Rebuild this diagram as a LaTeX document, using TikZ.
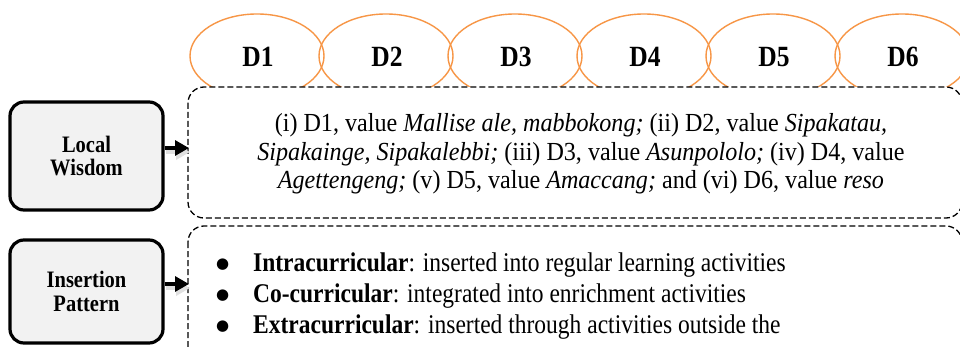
\documentclass[tikz,border=0pt]{standalone}
\usepackage{fontspec}
\usepackage{graphicx}
\setmainfont{Liberation Serif}
\newfontfamily\dejavu{DejaVu Sans}
\usetikzlibrary{shapes.geometric,arrows.meta}
\definecolor{dorange}{HTML}{F79646}
\definecolor{boxgray}{HTML}{F2F2F2}
\newcommand{\vstr}[1]{\scalebox{1}[1.15]{#1}}
\newcommand{\vstrb}[1]{\scalebox{1}[1.08]{#1}}
\newcommand{\bul}{\hspace*{-6pt}\makebox[37pt][l]{\raisebox{3pt}{\scalebox{1}[0.87]{\dejavu\fontsize{15}{15}\selectfont ●}}}}
\tikzset{
  dim/.style={ellipse, draw=dorange, line width=1.4pt, minimum width=134pt, minimum height=84pt, inner sep=0pt},
  dlabel/.style={font=\fontsize{25.5}{30}\selectfont\bfseries},
  leftbox/.style={draw=black, line width=3.2pt, rounded corners=14pt, fill=boxgray},
  dashbox/.style={draw=black, line width=1.3pt, dash pattern=on 6pt off 3pt, rounded corners=16pt, fill=white},
  leftlabel/.style={font=\fontsize{20.5}{23.5}\selectfont\bfseries, align=center},
  conn/.style={-{Triangle[length=14pt,width=15pt]}, line width=3.2pt, black},
  connshadow/.style={-{Triangle[length=14pt,width=15pt]}, line width=4pt, black!12},
}
\begin{document}
\begin{tikzpicture}[x=1pt,y=-1pt]
\useasboundingbox (0,0) rectangle (960,347);
\clip (0,0) rectangle (960,347);
\fill[white] (0,0) rectangle (960,347);
% ellipses
\foreach \i/\cx in {1/257,2/386,3/515,4/644,5/773,6/902}{
  \node[dim] (e\i) at (\cx,56) {};
  \node[dlabel] (d\i) at (\cx+1,57) {\vstr{D\i}};
}
% dashed boxes
\draw[dashbox] (188,87) rectangle (962,218);
\coordinate (w1) at (189,148);
\node[font=\fontsize{24.1}{28.7}\selectfont, align=center] (t1) at (581,154)
  {\vstrb{(i) D1, value \textit{Mallise ale, mabbokong;} (ii) D2, value \textit{Sipakatau,}}\\
   \vstrb{\textit{Sipakainge, Sipakalebbi;} (iii) D3, value \textit{Asunpololo;} (iv) D4, value}\\
   \vstrb{\textit{Agettengeng;} (v) D5, value \textit{Amaccang;} and (vi) D6, value \textit{reso}}};
\draw[dashbox] (188,226) rectangle (962,380);
\coordinate (w2) at (189,284);
\node[font=\fontsize{23.5}{31}\selectfont, align=left, anchor=west, inner sep=0pt] (t2) at (222,296)
  {\vstr{\bul\textbf{Intracurricular}: inserted into regular learning activities}\\
   \vstr{\bul\textbf{Co-curricular}: integrated into enrichment activities}\\
   \vstr{\bul\textbf{Extracurricular}: inserted through activities outside the}};
% left boxes
\node[leftbox, leftlabel, minimum width=153pt, minimum height=108pt] (lw) at (86.5,156) {\vstr{Local}\\\vstr{Wisdom}};
\node[leftbox, leftlabel, minimum width=153pt, minimum height=103pt] (ip) at (86.5,291.5) {\vstr{Insertion}\\\vstr{Pattern}};
% arrows
\draw[connshadow] ([xshift=1pt,yshift=-4pt]lw.east |- w1) -- ([xshift=1pt,yshift=-4pt]w1);
\draw[conn] (lw.east |- w1) -- (w1);
\draw[connshadow] ([xshift=1pt,yshift=-4pt]ip.east |- w2) -- ([xshift=1pt,yshift=-4pt]w2);
\draw[conn] (ip.east |- w2) -- (w2);
\end{tikzpicture}
\end{document}
